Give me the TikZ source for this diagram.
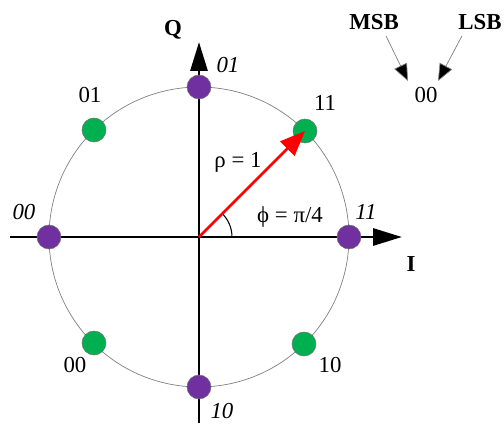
\documentclass[tikz,border=0pt]{standalone}
\usepackage{fontspec}
\setmainfont{Liberation Serif}
\usetikzlibrary{arrows.meta, positioning}
\definecolor{qpurple}{HTML}{7030A0}
\definecolor{qgreen}{HTML}{00B050}

\begin{document}
\begin{tikzpicture}[
  x=0.02cm, y=0.02cm,
  font=\fontsize{13}{15}\selectfont,
  axis/.style={line width=1.7pt, -{Triangle[length=0.58cm, width=0.34cm]}},
  pdot/.style={circle, fill=qpurple, draw=black!55, line width=0.3pt, minimum size=0.48cm, inner sep=0pt},
  gdot/.style={circle, fill=qgreen, draw=black!55, line width=0.3pt, minimum size=0.48cm, inner sep=0pt},
  glab/.style={font=\fontsize{13}{15}\selectfont},
  plab/.style={font=\fontsize{13}{15}\selectfont\itshape},
  bitarr/.style={gray, line width=0.4pt, -{Triangle[length=0.34cm, width=0.28cm, fill=black]}}
]
\useasboundingbox (-199,-186) rectangle (305,237);

\coordinate (o) at (0,0);
\coordinate (xl) at (-189,0);
\coordinate (xr) at (203,0);
\coordinate (yb) at (0,-186);
\coordinate (yt) at (0,195);

% unit circle
\draw[gray, line width=0.4pt] (o) circle[radius=3cm];

% axes
\draw[axis] (xl) -- (xr);
\draw[axis] (yb) -- (yt);
\node[font=\fontsize{13}{15}\selectfont\bfseries] (Qlab) at (-26,207) {Q};
\node[font=\fontsize{13}{15}\selectfont\bfseries] (Ilab) at (212,-27) {I};

% angle
\draw[line width=0.6pt] ([xshift=0.66cm]o) arc[start angle=0, end angle=45, radius=0.66cm];
\node (phi) at (91,20) {ϕ = π/4};

% QPSK points
\node[gdot] (g11) at (106,106) {};
\node[gdot] (g01) at (-105,107) {};
\node[gdot] (g00) at (-105,-106) {};
\node[gdot] (g10) at (105,-107) {};
\node[glab] (l11) at (126,134) {11};
\node[glab] (l01) at (-109,142) {01};
\node[glab] (l00) at (-124,-128) {00};
\node[glab] (l10) at (131,-128) {10};

% BPSK-like points on axes
\node[pdot] (p11) at (150,0) {};
\node[pdot] (p01) at (0,150) {};
\node[pdot] (p00) at (-150,0) {};
\node[pdot] (p10) at (0,-150) {};
\node[plab] (m11) at (167,25) {11};
\node[plab] (m01) at (29,172) {01};
\node[plab] (m00) at (-175,25) {00};
\node[plab] (m10) at (23,-174) {10};

% vector
\draw[red, line width=1.6pt, -{Triangle[length=0.5cm, width=0.4cm]}] (o) -- (g11.center);
\node (rho) at (39,75) {ρ = 1};

% bit order
\node[font=\fontsize{13}{15}\selectfont\bfseries] (msb) at (175,215) {MSB};
\node[font=\fontsize{13}{15}\selectfont\bfseries] (lsb) at (281,215) {LSB};
\node (bits) at (227,142) {00};
\draw[bitarr] ([xshift=0.24cm]msb.south) -- ([xshift=-0.36cm]bits.north);
\draw[bitarr] ([xshift=-0.36cm]lsb.south) -- ([xshift=0.24cm]bits.north);
\end{tikzpicture}
\end{document}
